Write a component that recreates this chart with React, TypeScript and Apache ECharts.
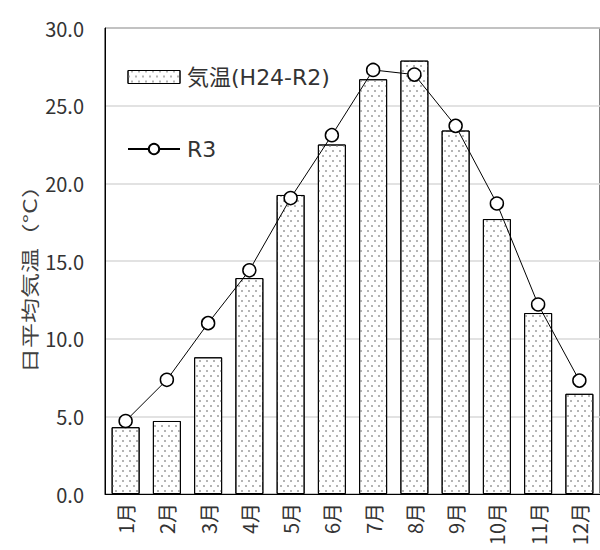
import React, { useEffect, useRef } from "react";
import * as echarts from "echarts";

const months = ["1月", "2月", "3月", "4月", "5月", "6月", "7月", "8月", "9月", "10月", "11月", "12月"];
const avgH24R2 = [4.3, 4.7, 8.8, 13.9, 19.25, 22.5, 26.7, 27.9, 23.4, 17.7, 11.65, 6.45];
const r3 = [4.7, 7.35, 11.0, 14.4, 19.05, 23.1, 27.3, 27.0, 23.7, 18.7, 12.2, 7.3];
const yName = "日平均気温（°C）";

const FONT = "'Noto Sans CJK JP', 'Noto Sans', sans-serif";
const LEGFONT = "'DejaVu Sans', 'Noto Sans CJK JP', sans-serif";

export default function App() {
  const ref = useRef<HTMLDivElement>(null);
  useEffect(() => {
    if (!ref.current) return;
    const chart = echarts.init(ref.current, undefined, { renderer: "svg" });
    const decal = {
      symbol: "rect",
      symbolSize: 1,
      color: "#b4b4b4",
      dashArrayX: [[1.5, 4.5], [0, 3, 1.5, 1.5]],
      dashArrayY: [1.5, 2.5],
      rotation: 0,
    };
    chart.setOption({
      animation: false,
      backgroundColor: "#ffffff",
      textStyle: { fontFamily: FONT },
      grid: {
        left: 105,
        top: 28,
        bottom: 56,
        right: -3,
        show: true,
        borderColor: "#000",
        borderWidth: 1,
        containLabel: false,
      },
      legend: {
        orient: "vertical",
        left: 122,
        top: 60,
        itemGap: 48,
        itemWidth: 52,
        itemHeight: 13,
        textStyle: {
          fontSize: 22,
          lineHeight: 24,
          color: "#333",
          fontFamily: LEGFONT,
          padding: [0, 0, 0, 2],
        },
        data: [
          {
            name: "気温(H24-R2)",
            icon: "rect",
            itemStyle: { color: "#ffffff", borderColor: "#000", borderWidth: 1, decal },
          },
          { name: "R3" },
        ],
      },
      graphic: [
        {
          type: "text",
          x: 29,
          y: 273,
          rotation: Math.PI / 2,
          scaleY: 0.72,
          style: {
            text: yName,
            fontSize: 25,
            fill: "#404040",
            fontFamily: FONT,
            align: "center",
            verticalAlign: "middle",
          },
        },
      ],
      xAxis: {
        type: "category",
        data: months,
        axisLine: { show: true, lineStyle: { color: "#000", width: 1 } },
        axisTick: { show: false },
        axisLabel: { rotate: 90, fontSize: 20, color: "#333", margin: 9, fontFamily: FONT },
      },
      yAxis: {
        type: "value",
        min: 0,
        max: 30,
        interval: 5,
        axisLine: { show: true, lineStyle: { color: "#000", width: 1 } },
        axisTick: { show: false },
        axisLabel: {
          fontSize: 20,
          color: "#333",
          margin: 21,
          fontFamily: FONT,
          formatter: (v: number) => v.toFixed(1),
        },
        splitLine: { show: true, lineStyle: { color: "#d9d9d9", width: 1.5 } },
      },
      series: [
        {
          name: "気温(H24-R2)",
          type: "bar",
          data: avgH24R2,
          barWidth: 28,
          itemStyle: {
            color: "#ffffff",
            borderColor: "#000",
            borderWidth: 1,
            decal,
          },
          z: 2,
        },
        {
          name: "R3",
          type: "line",
          data: r3,
          symbol: "circle",
          symbolSize: 13,
          lineStyle: { color: "#000", width: 1 },
          itemStyle: { color: "#ffffff", borderColor: "#000", borderWidth: 1.5 },
          z: 3,
        },
      ],
    });
    return () => chart.dispose();
  }, []);
  return (
    <div
      ref={ref}
      style={{ position: "fixed", left: 0, top: 0, width: 600, height: 550 }}
    />
  );
}
